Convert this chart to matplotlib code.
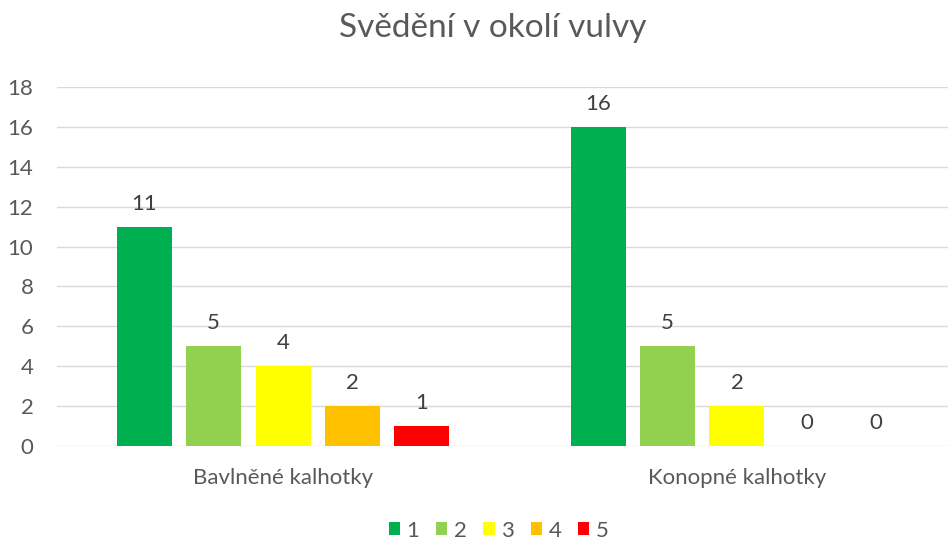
import numpy as np
import matplotlib
matplotlib.use("Agg")
import matplotlib.pyplot as plt

# data
kategorie = ["Bavlněné kalhotky", "Konopné kalhotky"]
serie = ["1", "2", "3", "4", "5"]
hodnoty = [
    [11, 16],
    [5, 5],
    [4, 2],
    [2, 0],
    [1, 0],
]
barvy = ["#00B050", "#92D050", "#FFFF00", "#FFC000", "#FF0000"]

plt.rcParams['font.family'] = ['Lato', 'DejaVu Sans']
sedy = "#595959"

fig = plt.figure(figsize=(9.5, 5.39), dpi=100)
ax = fig.add_axes([57 / 950, 93 / 539, 891 / 950, 359 / 539])

x = np.arange(len(kategorie))
sirka = 0.121
krok = 0.153
for i, (nazev, vals) in enumerate(zip(serie, hodnoty)):
    pos = x + (i - 2) * krok
    ax.bar(pos, vals, sirka, color=barvy[i], label=nazev, zorder=3)
    for p, v in zip(pos, vals):
        ax.text(p, v + 0.65, str(v), ha="center", va="bottom", fontsize=16, color="#404040")

ax.set_xlim(-0.498, 1.465)
ax.set_ylim(0, 18)
ax.set_yticks(range(0, 19, 2))
ax.set_xticks(x)
ax.set_xticklabels(kategorie)
ax.tick_params(axis="both", length=0, labelsize=16, colors=sedy)
ax.tick_params(axis="x", pad=16)
ax.tick_params(axis="y", pad=17)
ax.grid(axis="y", color="#D9D9D9", linewidth=1, zorder=0)
for s in ax.spines.values():
    s.set_visible(False)

fig.suptitle("Svědění v okolí vulvy", x=0.519, y=0.975, fontsize=24, color=sedy)

fig.legend(loc="lower center", bbox_to_anchor=(0.525, -0.04), ncol=5, frameon=False,
           fontsize=16, handlelength=0.5, handleheight=0.5, handletextpad=0.3,
           columnspacing=0.75, labelcolor=sedy)

fig.savefig("out.png", dpi=100)
